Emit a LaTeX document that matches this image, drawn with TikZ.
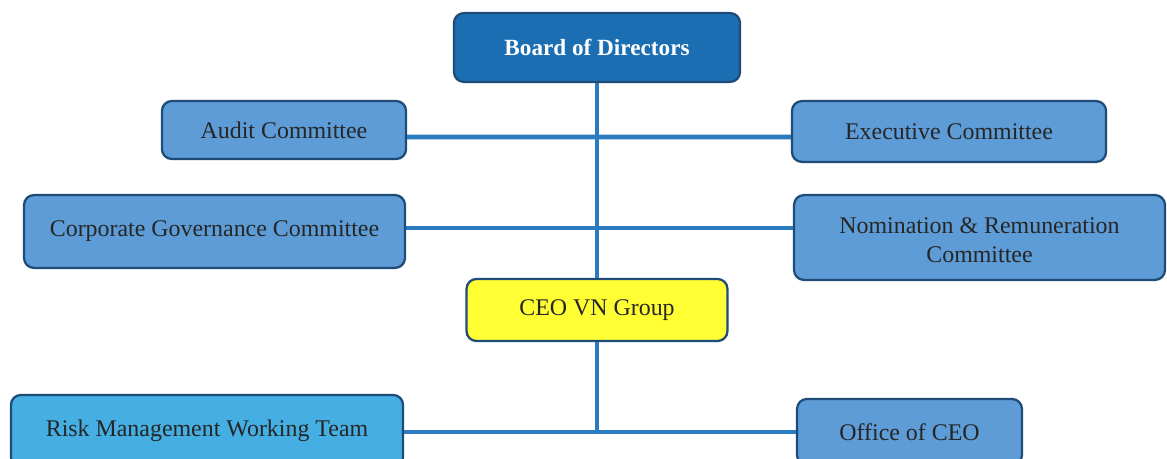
\documentclass[tikz,border=0pt]{standalone}
\usepackage{fontspec}
\setmainfont{Liberation Serif}
\usepackage{tikz}

\definecolor{boardblue}{HTML}{1C6EB3}
\definecolor{boxblue}{HTML}{5D9CD6}
\definecolor{teamblue}{HTML}{45AEE2}
\definecolor{rimblue}{HTML}{1F4B78}
\definecolor{linkblue}{HTML}{2A7BC0}
\definecolor{ceoyellow}{HTML}{FFFF33}

\tikzset{
    unit/.style={draw=rimblue, line width=1.6pt, rounded corners=7pt, fill=boxblue,
        align=center, inner sep=0pt, font=\fontsize{17}{20.5}\selectfont, text=black!85},
    board/.style={unit, fill=boardblue, text=white, font=\fontsize{16.5}{20}\selectfont\bfseries},
    ceo/.style={unit, fill=ceoyellow},
    team/.style={unit, fill=teamblue},
    link/.style={draw=linkblue, line width=3.4pt}
}

\begin{document}
\begin{tikzpicture}[x=0.025cm, y=-0.025cm]
        \useasboundingbox (0,0) rectangle (1167,459);
        \clip (0,0) rectangle (1167,459);

        \node[board, minimum width=7.15cm, minimum height=1.72cm] (bod) at (597,47.5) {Board of Directors};
        \node[unit, minimum width=6.1cm, minimum height=1.45cm] (audit) at (284,130) {Audit Committee};
        \node[unit, minimum width=7.85cm, minimum height=1.52cm] (exec) at (949,131.5) {Executive Committee};
        \node[unit, minimum width=9.52cm, minimum height=1.82cm] (cgc) at (214.5,231.5) {Corporate Governance Committee};
        \node[unit, minimum width=9.27cm, minimum height=2.12cm] (nrc) at (979.5,237.5) {};
        \node[font=\fontsize{17}{20.5}\selectfont, text=black!85, align=center, inner sep=0pt] (nrctext) at (979.5,240.5) {Nomination \& Remuneration\\Committee};
        \node[ceo, minimum width=6.52cm, minimum height=1.55cm] (ceo) at (597,310) {CEO VN Group};
        \node[team, minimum width=9.8cm, minimum height=1.8cm] (risk) at (207,431) {Risk Management Working Team};
        \node[unit, minimum width=5.62cm, minimum height=1.65cm] (office) at (909.5,432) {Office of CEO};

        \coordinate (hub) at (597,432);

        \draw[link] (bod.south) -- (ceo.north);
        \draw[link] ([yshift=-7*0.025cm]audit.east) -- ([yshift=-5.5*0.025cm]exec.west);
        \draw[link] ([yshift=3.5*0.025cm]cgc.east) -- ([yshift=9.5*0.025cm]nrc.west);
        \draw[link] (ceo.south) -- (hub);
        \draw[link] (risk.east |- hub) -- (hub) -- (office.west |- hub);
\end{tikzpicture}
\end{document}
